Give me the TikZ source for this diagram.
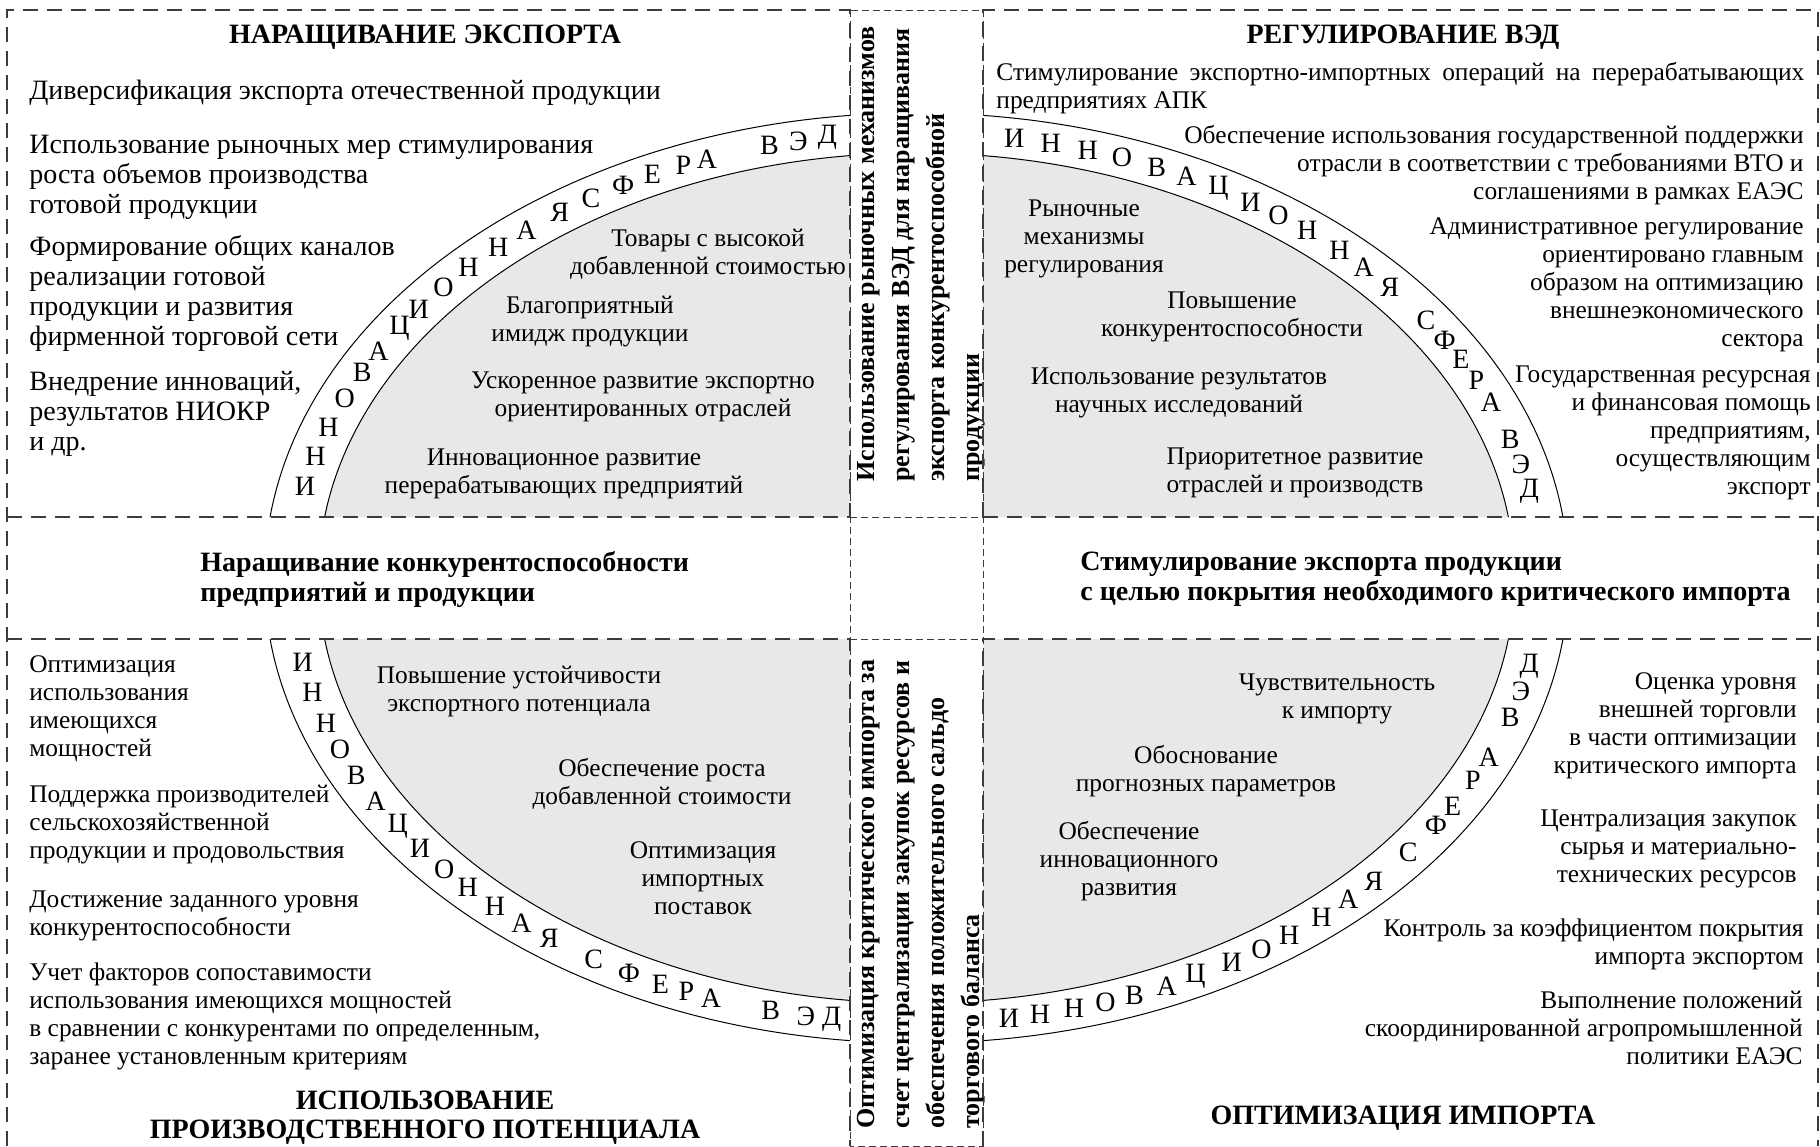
\documentclass[tikz,border=0pt]{standalone}
\usepackage{fontspec}
\setmainfont{Liberation Serif}

\definecolor{ringgray}{RGB}{232,232,232}
\definecolor{dashgray}{RGB}{60,60,60}

\tikzset{
    lefttext/.style={font=\fontsize{12.7}{14}\selectfont, inner sep=0pt, align=left, anchor=west},
    righttext/.style={font=\fontsize{12.7}{14}\selectfont, inner sep=0pt, align=right, anchor=east},
    innertext/.style={font=\fontsize{12.7}{14}\selectfont, inner sep=0pt, align=center},
    bigtext/.style={font=\fontsize{14}{15}\selectfont},
    heading/.style={font=\bfseries\fontsize{14}{14.5}\selectfont, inner sep=0pt, align=center},
    bandtext/.style={font=\bfseries\fontsize{14}{15}\selectfont, inner sep=0pt, align=left, anchor=west},
    coltext/.style={font=\bfseries\fontsize{13}{17.5}\selectfont, inner sep=0pt, align=left, anchor=west, rotate=90},
    ringletter/.style={font=\fontsize{14}{14}\selectfont, inner sep=0pt},
    thickdash/.style={dashgray, line width=1pt, dash pattern=on 7.5pt off 4.5pt},
    thindash/.style={dashgray, line width=0.5pt, dash pattern=on 3.5pt off 2pt}
}

\begin{document}
\begin{tikzpicture}[x=0.5pt, y=-0.5pt]
    \useasboundingbox (0,0) rectangle (1820,1146);
    %
    % ring of the four quadrants
    \begin{scope}
        \clip (7,10) rectangle (850,517) (983,10) rectangle (1818,517)
              (7,639) rectangle (850,1146) (983,639) rectangle (1818,1146);
        \fill[ringgray] (916.5,578) ellipse [x radius=299pt, y radius=212.5pt];
        \draw[line width=0.5pt] (916.5,578) ellipse [x radius=299pt, y radius=212.5pt];
        \draw[line width=0.5pt] (916.5,578) ellipse [x radius=326pt, y radius=232.5pt];
    \end{scope}
    %
    % letters on the ring
    \foreach \ang/\ch [count=\i] in {168.1/И, 164.1/Н, 160.2/Н, 156.2/О, 152.5/В, 149.4/А, 145.8/Ц, 142.8/И, 139.2/О, 135.8/Н, 132.0/Н, 128.6/А, 124.8/Я, 121.4/С, 118.0/Ф, 115.0/Е, 111.9/Р, 109.6/А, 103.6/В, 100.9/Э, 98.2/Д}
        \node[ringletter] (tl\i) at ({916.5+625*cos(\ang)}, {578-445*sin(\ang)}) {\ch};
    \foreach \ang/\ch [count=\i] in {81.0/И, 77.6/Н, 74.1/Н, 70.8/О, 67.4/В, 64.4/А, 61.1/Ц, 57.7/И, 54.6/О, 51.3/Н, 47.4/Н, 44.3/А, 40.8/Я, 35.4/С, 32.3/Ф, 29.4/Е, 26.4/Р, 23.2/А, 18.2/В, 14.8/Э, 11.3/Д}
        \node[ringletter] (tr\i) at ({916.5+625*cos(\ang)}, {578-445*sin(\ang)}) {\ch};
    \foreach \ang/\ch [count=\i] in {190.9/И, 194.9/Н, 199.1/Н, 202.7/О, 206.3/В, 210.1/А, 213.9/Ц, 217.4/И, 220.9/О, 224.1/Н, 227.6/Н, 230.8/А, 234.0/Я, 238.9/С, 242.6/Ф, 245.8/Е, 248.4/Р, 250.8/А, 256.5/В, 259.8/Э, 262.2/Д}
        \node[ringletter] (bl\i) at ({916.5+625*cos(\ang)}, {578-445*sin(\ang)}) {\ch};
    \foreach \ang/\ch [count=\i] in {278.5/И, 281.4/Н, 284.6/Н, 287.6/О, 290.4/В, 293.6/А, 296.5/Ц, 300.3/И, 303.5/О, 306.6/Н, 310.4/Н, 313.7/А, 317.0/Я, 321.9/С, 326.2/Ф, 329.1/Е, 332.9/Р, 336.3/А, 341.8/В, 345.2/Э, 348.6/Д}
        \node[ringletter] (br\i) at ({916.5+625*cos(\ang)}, {578-445*sin(\ang)}) {\ch};
    %
    % top left quadrant
    \node[heading] (tl-title) at (425,37) {НАРАЩИВАНИЕ ЭКСПОРТА};
    \node[lefttext, bigtext] (tl-a) at (29,93) {Диверсификация экспорта отечественной продукции};
    \node[lefttext, bigtext] (tl-b) at (29,177) {Использование рыночных мер стимулирования\\роста объемов производства\\готовой продукции};
    \node[lefttext, bigtext] (tl-c) at (29,293) {Формирование общих каналов\\реализации готовой\\продукции и развития\\фирменной торговой сети};
    \node[lefttext, bigtext] (tl-d) at (29,414) {Внедрение инноваций,\\результатов НИОКР\\и др.};
    \node[innertext] (tl-g1) at (708,254) {Товары с высокой\\добавленной стоимостью};
    \node[innertext] (tl-g2) at (590,322) {Благоприятный\\имидж продукции};
    \node[innertext] (tl-g3) at (643,397) {Ускоренное развитие экспортно\\ориентированных отраслей};
    \node[innertext] (tl-g4) at (564,474) {Инновационное развитие\\перерабатывающих предприятий};
    %
    % top right quadrant
    \node[heading] (tr-title) at (1403,37) {РЕГУЛИРОВАНИЕ ВЭД};
    \node[lefttext] (tr-a) at (996,88) {\makebox[404pt][s]{Стимулирование экспортно-импортных операций на перерабатывающих}\\предприятиях АПК};
    \node[righttext] (tr-b) at (1804,165) {Обеспечение использования государственной поддержки\\отрасли в соответствии с требованиями ВТО и\\соглашениями в рамках ЕАЭС};
    \node[righttext] (tr-c) at (1804,285) {Административное регулирование\\ориентировано главным\\образом на оптимизацию\\внешнеэкономического\\сектора};
    \node[righttext] (tr-d) at (1811,433) {Государственная ресурсная\\и финансовая помощь\\предприятиям,\\осуществляющим\\экспорт};
    \node[innertext] (tr-g1) at (1084,239) {Рыночные\\механизмы\\регулирования};
    \node[innertext] (tr-g2) at (1232,317) {Повышение\\конкурентоспособности};
    \node[innertext] (tr-g3) at (1179,393) {Использование результатов\\научных исследований};
    \node[innertext] (tr-g4) at (1295,473) {Приоритетное развитие\\отраслей и производств};
    %
    % middle band
    \node[bandtext] (band-l) at (200,579) {Наращивание конкурентоспособности\\предприятий и продукции};
    \node[bandtext] (band-r) at (1080,579) {Стимулирование экспорта продукции\\с целью покрытия необходимого критического импорта};
    %
    % middle column
    \node[coltext] (col-top) at (921,482) {Использование рыночных механизмов\\регулирования ВЭД для наращивания\\экспорта конкурентоспособной\\продукции};
    \node[coltext] (col-bot) at (921,1129) {Оптимизация критического импорта за\\счет централизации закупок ресурсов и\\обеспечения положительного сальдо\\торгового баланса};
    %
    % bottom left quadrant
    \node[lefttext] (bl-a) at (29,709) {Оптимизация\\использования\\имеющихся\\мощностей};
    \node[lefttext] (bl-b) at (29,825) {Поддержка производителей\\сельскохозяйственной\\продукции и продовольствия};
    \node[lefttext] (bl-c) at (29,915.5) {Достижение заданного уровня\\конкурентоспособности};
    \node[lefttext] (bl-d) at (29,1016) {Учет факторов сопоставимости\\использования имеющихся мощностей\\в сравнении с конкурентами по определенным,\\заранее установленным критериям};
    \node[heading] (bl-title) at (425,1118) {ИСПОЛЬЗОВАНИЕ\\ПРОИЗВОДСТВЕННОГО ПОТЕНЦИАЛА};
    \node[innertext] (bl-g1) at (519,691) {Повышение устойчивости\\экспортного потенциала};
    \node[innertext] (bl-g2) at (662,784) {Обеспечение роста\\добавленной стоимости};
    \node[innertext] (bl-g3) at (703,878) {Оптимизация\\импортных\\поставок};
    %
    % bottom right quadrant
    \node[innertext] (br-g1) at (1337,699) {Чувствительность\\к импорту};
    \node[innertext] (br-g2) at (1206,771) {Обоснование\\прогнозных параметров};
    \node[innertext] (br-g3) at (1129,861) {Обеспечение\\инновационного\\развития};
    \node[righttext] (br-a) at (1797,726) {Оценка уровня\\внешней торговли\\в части оптимизации\\критического импорта};
    \node[righttext] (br-b) at (1797,849) {Централизация закупок\\сырья и материально-\\технических ресурсов};
    \node[righttext] (br-c) at (1804,944) {Контроль за коэффициентом покрытия\\импорта экспортом};
    \node[righttext] (br-d) at (1803,1028) {Выполнение положений\\скоординированной агропромышленной\\политики ЕАЭС};
    \node[heading] (br-title) at (1403,1118) {ОПТИМИЗАЦИЯ ИМПОРТА};
    %
    % thin frame of the middle column and square
    \draw[thindash] (850,10) rectangle (983,1146);
    \draw[thindash] (850,517) -- (983,517);
    \draw[thindash] (850,639) -- (983,639);
    %
    % thick frame of the quadrants
    \draw[thickdash] (7,1146) -- (7,10) -- (850,10) -- (850,517);
    \draw[thickdash] (983,517) -- (983,10) -- (1818,10) -- (1818,1146);
    \draw[thickdash] (7,517) -- (850,517);
    \draw[thickdash] (7,639) -- (850,639) -- (850,1146);
    \draw[thickdash] (983,517) -- (1818,517);
    \draw[thickdash] (983,1146) -- (983,639) -- (1818,639);
\end{tikzpicture}
\end{document}
